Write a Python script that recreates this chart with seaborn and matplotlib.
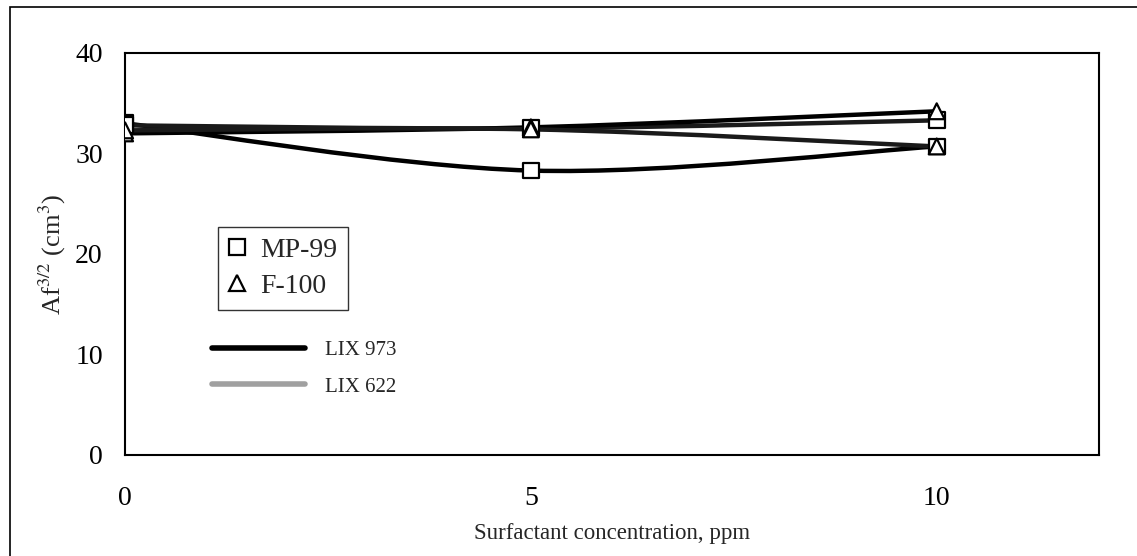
import numpy as np
import pandas as pd
import seaborn as sns
import matplotlib
matplotlib.use("Agg")
import matplotlib.pyplot as plt
from matplotlib.path import Path
from matplotlib.patches import PathPatch, Rectangle
from matplotlib.lines import Line2D

# ---- data ----
conc = [0, 5, 10]
mp99_lix973 = [33.0, 28.3, 30.7]
mp99_lix622 = [32.8, 32.5, 33.3]
f100_lix973 = [32.0, 32.6, 34.2]
f100_lix622 = [32.3, 32.4, 30.7]

series = [
    ("MP-99", "LIX 973", mp99_lix973),
    ("MP-99", "LIX 622", mp99_lix622),
    ("F-100", "LIX 973", f100_lix973),
    ("F-100", "LIX 622", f100_lix622),
]

rows = []
for surf, ext, vals in series:
    for x, y in zip(conc, vals):
        rows.append({"conc": x, "val": y, "surf": surf, "ext": ext})
df = pd.DataFrame(rows)

sns.set_theme(style="white")
plt.rcParams["font.family"] = ["Liberation Serif", "DejaVu Serif"]
plt.rcParams["mathtext.fontset"] = "stix"

fig = plt.figure(figsize=(11.37, 5.56), dpi=100)
ax = fig.add_axes([0.110, 0.1817, 0.8566, 0.7230])

line_colors = {"LIX 973": "black", "LIX 622": "#1a1a1a"}


def smooth_path(xs, ys):
    # Excel-style smoothed line: cubic Bezier with Catmull-Rom control points
    pts = np.column_stack([xs, ys]).astype(float)
    n = len(pts)
    verts = [pts[0]]
    codes = [Path.MOVETO]
    for i in range(n - 1):
        p0 = pts[max(i - 1, 0)]
        p1 = pts[i]
        p2 = pts[i + 1]
        p3 = pts[min(i + 2, n - 1)]
        c1 = p1 + (p2 - p0) / 6.0
        c2 = p2 - (p3 - p1) / 6.0
        verts += [c1, c2, p2]
        codes += [Path.CURVE4] * 3
    return Path(verts, codes)


for surf, ext, vals in series:
    patch = PathPatch(smooth_path(conc, vals), fill=False,
                      edgecolor=line_colors[ext], lw=3.2, zorder=2)
    ax.add_patch(patch)

sns.scatterplot(data=df, x="conc", y="val", style="surf",
                markers={"MP-99": "s", "F-100": "^"}, s=130,
                facecolor="white", edgecolor="black", linewidth=1.6,
                legend=False, ax=ax, zorder=3)

ax.set_xlim(0, 12)
ax.set_ylim(0, 40)
ax.set_xticks([0, 5, 10])
ax.set_yticks([0, 10, 20, 30, 40])
ax.tick_params(axis="both", direction="in", length=5, width=1,
               labelsize=20, colors="black", pad=16)
ax.tick_params(axis="x", pad=22)
for sp in ax.spines.values():
    sp.set_color("black")
    sp.set_linewidth(1.5)
ax.set_xlabel("Surfactant concentration, ppm", fontsize=16.5, labelpad=9)
ax.set_ylabel(r"Af$^{3/2}$ (cm$^3$)", fontsize=19, labelpad=5)

# legend for surfactant markers (boxed)
h1 = [Line2D([], [], ls="none", marker="s", ms=11, mfc="white", mec="black", mew=1.6),
      Line2D([], [], ls="none", marker="^", ms=11, mfc="white", mec="black", mew=1.6)]
leg1 = ax.legend(h1, ["MP-99", "F-100"], loc="upper left",
                 bbox_to_anchor=(0.0955, 0.567), borderaxespad=0,
                 frameon=True, fancybox=False,
                 edgecolor="black", fontsize=20, handlelength=0.6,
                 handletextpad=0.55, borderpad=0.38, labelspacing=0.38)
leg1.get_frame().set_linewidth(1.0)
ax.add_artist(leg1)

# legend for extractant lines (no frame)
h2 = [Line2D([], [], color="black", lw=4),
      Line2D([], [], color="#a0a0a0", lw=4)]
ax.legend(h2, ["LIX 973", "LIX 622"], loc="upper left",
          bbox_to_anchor=(0.0893, 0.284), borderaxespad=0, borderpad=0,
          frameon=False, fontsize=15,
          handlelength=4.47, handletextpad=0.96, labelspacing=0.8)

# outer frame around whole figure
fig.patches.append(Rectangle((10 / 1137, -0.05), 1.2, 1.05 - 7 / 556,
                             transform=fig.transFigure, fill=False,
                             edgecolor="black", lw=1.2))

fig.savefig("out.png", dpi=100)
